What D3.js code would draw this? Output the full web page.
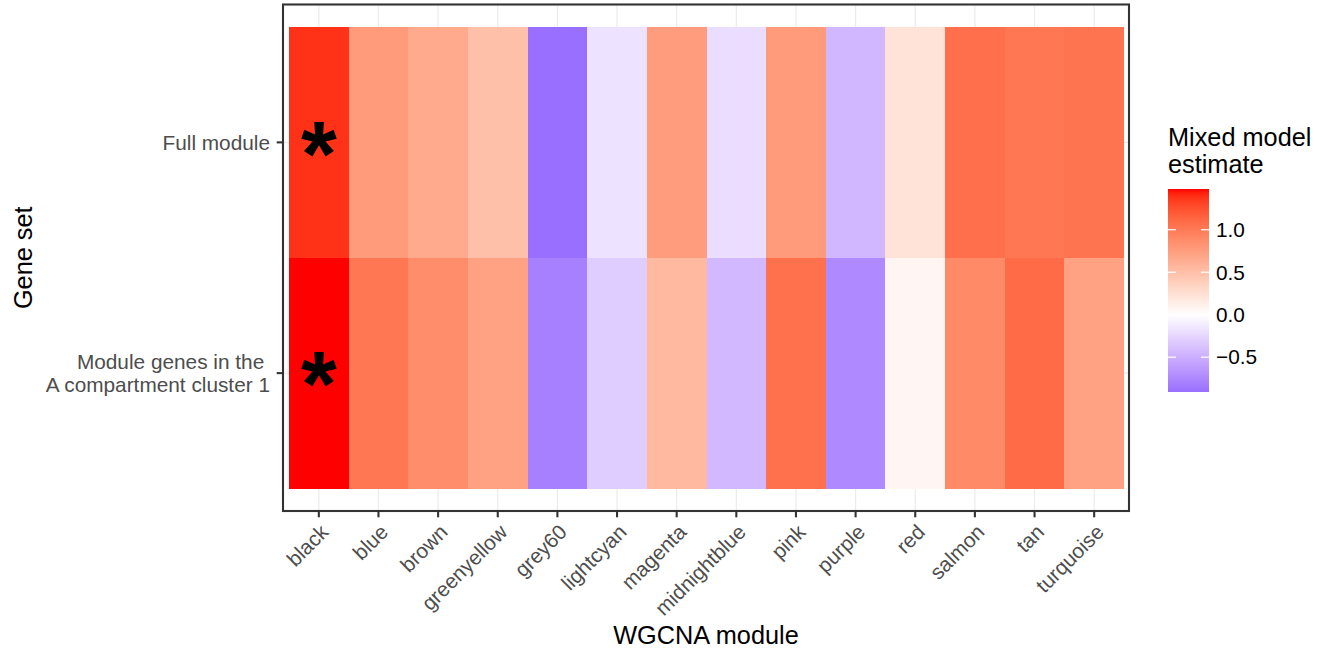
<!DOCTYPE html>
<html>
<head>
<meta charset="utf-8">
<script src="https://cdn.jsdelivr.net/npm/d3@7"></script>
<style>
    body { margin: 0; background: #fff; }
    text { font-family: 'Liberation Sans', Arial, sans-serif; }
</style>
</head>
<body>
<div id="heatmap"></div>
<script>
// WGCNA modules on the x axis, gene sets on the y axis
var modules = ['black', 'blue', 'brown', 'greenyellow', 'grey60', 'lightcyan', 'magenta',
    'midnightblue', 'pink', 'purple', 'red', 'salmon', 'tan', 'turquoise'];
var geneSets = ['Full module', 'Module genes in the \nA compartment cluster 1'];

// mixed model estimates, one value per module
var fullModule = [1.38, 0.77, 0.66, 0.49, -0.91, -0.18, 0.76, -0.21, 0.77, -0.45, 0.22, 1.07, 1.02, 1.04];
var clusterGenes = [1.48, 1.02, 0.88, 0.73, -0.80, -0.31, 0.55, -0.44, 1.06, -0.74, 0.07, 0.89, 1.10, 0.73];
// modules marked with an asterisk
var fullSignif = ['black'];
var clusterSignif = ['black'];

var legendTicks = [-0.5, 0, 0.5, 1.0];

var width = 1323,
    height = 652;

var panel = { left: 283, right: 1129, top: 4.5, bottom: 511 };

var svg = d3.select('#heatmap')
    .append('svg')
    .attr('width', width)
    .attr('height', height);

var cells = [];
modules.forEach(function(m, i) {
    cells.push({ set: geneSets[0], module: m, value: fullModule[i], star: fullSignif.indexOf(m) >= 0 });
    cells.push({ set: geneSets[1], module: m, value: clusterGenes[i], star: clusterSignif.indexOf(m) >= 0 });
});

var x = d3.scaleBand()
    .domain(modules)
    .range([panel.left + 6, panel.right - 5]);

var y = d3.scaleBand()
    .domain(geneSets)
    .range([panel.top + 22.5, panel.bottom - 22.5]);

var allValues = fullModule.concat(clusterGenes);
var vmin = d3.min(allValues),
    vmax = d3.max(allValues);
var maxAbs = Math.max(Math.abs(vmin), Math.abs(vmax));

// gradient2 style: blue - white - red, interpolated in Lab
var color = d3.scaleDiverging()
    .domain([-maxAbs, 0, maxAbs])
    .interpolator(d3.piecewise(d3.interpolateLab, ['blue', 'white', 'red']));

// grid lines
svg.append('g')
    .selectAll('line')
    .data(modules)
    .enter()
    .append('line')
    .attr('x1', function(d) { return x(d) + x.bandwidth() / 2; })
    .attr('x2', function(d) { return x(d) + x.bandwidth() / 2; })
    .attr('y1', panel.top)
    .attr('y2', panel.bottom)
    .attr('stroke', '#ebebeb')
    .attr('stroke-width', 1.2);

svg.append('g')
    .selectAll('line')
    .data(geneSets)
    .enter()
    .append('line')
    .attr('x1', panel.left)
    .attr('x2', panel.right)
    .attr('y1', function(d) { return y(d) + y.bandwidth() / 2; })
    .attr('y2', function(d) { return y(d) + y.bandwidth() / 2; })
    .attr('stroke', '#ebebeb')
    .attr('stroke-width', 1.2);

// tiles
svg.append('g')
    .selectAll('rect')
    .data(cells)
    .enter()
    .append('rect')
    .attr('x', function(d) { return x(d.module); })
    .attr('y', function(d) { return y(d.set); })
    .attr('width', x.bandwidth())
    .attr('height', y.bandwidth())
    .attr('fill', function(d) { return color(d.value); })
    .attr('shape-rendering', 'crispEdges');

// asterisks
svg.append('g')
    .selectAll('text')
    .data(cells.filter(function(d) { return d.star; }))
    .enter()
    .append('text')
    .attr('x', function(d) { return x(d.module) + x.bandwidth() / 2; })
    .attr('y', function(d) { return y(d.set) + y.bandwidth() / 2; })
    .attr('dy', '0.47em')
    .attr('text-anchor', 'middle')
    .style('font-size', '92px')
    .style('font-weight', 'bold')
    .attr('fill', '#000')
    .text('*');

// panel border
svg.append('rect')
    .attr('x', panel.left)
    .attr('y', panel.top)
    .attr('width', panel.right - panel.left)
    .attr('height', panel.bottom - panel.top)
    .attr('fill', 'none')
    .attr('stroke', '#333333')
    .attr('stroke-width', 2.1);

// x axis
var xTicks = svg.append('g')
    .selectAll('g')
    .data(modules)
    .enter()
    .append('g')
    .attr('transform', function(d) {
        return 'translate(' + (x(d) + x.bandwidth() / 2) + ',' + panel.bottom + ')';
    });

xTicks.append('line')
    .attr('y1', 0)
    .attr('y2', 6.3)
    .attr('stroke', '#333333')
    .attr('stroke-width', 2.1);

xTicks.append('text')
    .attr('transform', 'translate(0,11.5) rotate(-45)')
    .attr('text-anchor', 'end')
    .attr('dy', '0.74em')
    .attr('fill', '#4d4d4d')
    .style('font-size', '20.8px')
    .text(function(d) { return d; });

// y axis
var yTicks = svg.append('g')
    .selectAll('g')
    .data(geneSets)
    .enter()
    .append('g')
    .attr('transform', function(d) {
        return 'translate(' + panel.left + ',' + (y(d) + y.bandwidth() / 2) + ')';
    });

yTicks.append('line')
    .attr('x1', -6.3)
    .attr('x2', 0)
    .attr('stroke', '#333333')
    .attr('stroke-width', 2.1);

yTicks.append('text')
    .attr('text-anchor', 'end')
    .attr('fill', '#4d4d4d')
    .style('font-size', '20.8px')
    .style('white-space', 'pre')
    .each(function(d) {
        var lines = d.split('\n');
        var lineH = 22.8;
        var first = -(lines.length - 1) * lineH / 2;
        var t = d3.select(this);
        lines.forEach(function(l, i) {
            t.append('tspan')
                .attr('x', -13)
                .attr('y', first + i * lineH)
                .attr('dy', '0.35em')
                .text(l);
        });
    });

// axis titles
svg.append('text')
    .attr('x', (panel.left + panel.right) / 2)
    .attr('y', 644)
    .attr('text-anchor', 'middle')
    .style('font-size', '25.3px')
    .text('WGCNA module');

svg.append('text')
    .attr('transform', 'translate(32,' + ((panel.top + panel.bottom) / 2) + ') rotate(-90)')
    .attr('text-anchor', 'middle')
    .style('font-size', '25.3px')
    .text('Gene set');

// colour bar legend
var legendX = 1168,
    barW = 41;
var legendY = d3.scaleLinear()
    .domain([vmin, vmax])
    .range([392, 189]);

var grad = svg.append('defs')
    .append('linearGradient')
    .attr('id', 'bar')
    .attr('x1', 0).attr('x2', 0)
    .attr('y1', 1).attr('y2', 0);

d3.range(0, 1.0001, 0.02).forEach(function(p) {
    grad.append('stop')
        .attr('offset', p)
        .attr('stop-color', color(vmin + p * (vmax - vmin)));
});

svg.append('rect')
    .attr('x', legendX)
    .attr('y', legendY(vmax))
    .attr('width', barW)
    .attr('height', legendY(vmin) - legendY(vmax))
    .attr('fill', 'url(#bar)');

var lt = svg.append('g')
    .selectAll('g')
    .data(legendTicks)
    .enter()
    .append('g')
    .attr('transform', function(d) { return 'translate(0,' + legendY(d) + ')'; });

lt.append('line')
    .attr('x1', legendX)
    .attr('x2', legendX + 8)
    .attr('stroke', '#fff')
    .attr('stroke-width', 1.2);

lt.append('line')
    .attr('x1', legendX + barW - 8)
    .attr('x2', legendX + barW)
    .attr('stroke', '#fff')
    .attr('stroke-width', 1.2);

lt.append('text')
    .attr('x', legendX + barW + 7)
    .attr('dy', '0.35em')
    .style('font-size', '20.8px')
    .text(function(d) { return d3.format('.1f')(d).replace('-', '\u2212'); });

var legendTitle = svg.append('text')
    .style('font-size', '25.3px');
legendTitle.append('tspan').attr('x', legendX).attr('y', 146).text('Mixed model');
legendTitle.append('tspan').attr('x', legendX).attr('y', 173).text('estimate');
</script>
</body>
</html>
